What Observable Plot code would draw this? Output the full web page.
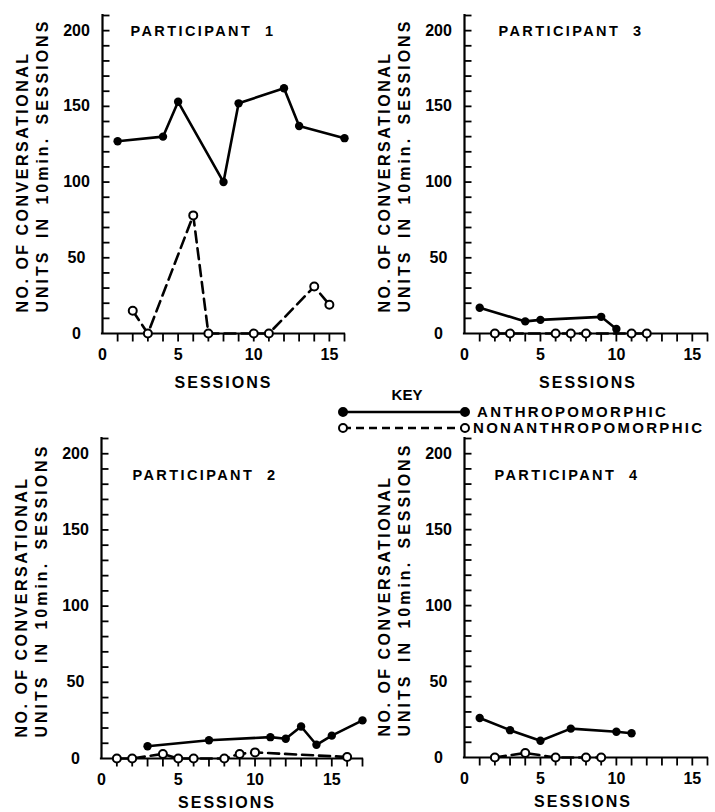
<!DOCTYPE html>
<html>
<head>
<meta charset="utf-8">
<script src="https://cdn.jsdelivr.net/npm/d3@7"></script>
<script src="https://cdn.jsdelivr.net/npm/@observablehq/plot@0.6"></script>
<style>
  body { margin: 0; background: #fff; }
  #wrap { position: relative; width: 715px; height: 812px; overflow: hidden; background: #fff;
          font-family: "Liberation Sans", Arial, sans-serif; }
  #wrap > svg { position: absolute; }
  #key text { font-family: "Liberation Sans", Arial, sans-serif; font-weight: bold; font-size: 15px; }
</style>
</head>
<body>
<div id="wrap"></div>
<script>
// ---- data ----
const yTickLabels = [0, 50, 100, 150, 200];
const xTickLabels = [0, 5, 10, 15];
const seriesNames = ["ANTHROPOMORPHIC", "NONANTHROPOMORPHIC"];
const panelTitles = ["PARTICIPANT\u00a0\u00a01", "PARTICIPANT\u00a0\u00a03", "PARTICIPANT\u00a0\u00a02", "PARTICIPANT\u00a0\u00a04"];

const p1AnthroSessions = [1, 4, 5, 8, 9, 12, 13, 16];
const p1AnthroUnits    = [127, 130, 153, 100, 152, 162, 137, 129];
const p1NonSessions    = [2, 3, 6, 7, 10, 11, 14, 15];
const p1NonUnits       = [15, 0, 78, 0, 0, 0, 31, 19];

const p3AnthroSessions = [1, 4, 5, 9, 10];
const p3AnthroUnits    = [17, 8, 9, 11, 3];
const p3NonSessions    = [2, 3, 6, 7, 8, 11, 12];
const p3NonUnits       = [0, 0, 0, 0, 0, 0, 0];

const p2AnthroSessions = [3, 7, 11, 12, 13, 14, 15, 17];
const p2AnthroUnits    = [8, 12, 14, 13, 21, 9, 15, 25];
const p2NonSessions    = [1, 2, 4, 5, 6, 8, 9, 10, 16];
const p2NonUnits       = [0, 0, 3, 0, 0, 0, 3, 4, 1];

const p4AnthroSessions = [1, 3, 5, 7, 10, 11];
const p4AnthroUnits    = [26, 18, 11, 19, 17, 16];
const p4NonSessions    = [2, 4, 6, 8, 9];
const p4NonUnits       = [0, 3, 0, 0, 0];

const FONT = '"Liberation Sans", Arial, sans-serif';
const wrap = document.getElementById("wrap");

const spacing = [
  [/^PARTICIPANT/, "2.4px", null],
  [/^NO\. OF/, "2.5px", null],
  [/^UNITS IN/, "3px", "4px"],
  [/^SESSIONS$/, "2px", null]
];

function makePanel(cfg) {
  const anthro = cfg.sa.map((s, i) => ({session: s, units: cfg.va[i]}));
  const non = cfg.sn.map((s, i) => ({session: s, units: cfg.vn[i]}));
  const plotW = cfg.width - cfg.ml - cfg.mr;
  const xPerPx = cfg.xMax / plotW;       // data units per pixel (x)
  const yPerPx = 210 / cfg.ph;           // data units per pixel (y)
  const xMinor = d3.range(1, cfg.xMax + 1);
  const yMinor = d3.range(10, 211, 10);
  const svg = Plot.plot({
    width: cfg.width, height: cfg.height,
    marginLeft: cfg.ml, marginRight: cfg.mr, marginTop: cfg.mt, marginBottom: cfg.height - cfg.mt - cfg.ph,
    style: {background: "transparent", fontFamily: FONT, overflow: "visible", color: "black"},
    x: {domain: [0, cfg.xMax]},
    y: {domain: [0, 210]},
    marks: [
      // minor ticks as links: x outward (down 8px), y inward (right 7px)
      Plot.link(xMinor, {x1: d => d, x2: d => d, y1: 0, y2: -8 * yPerPx, stroke: "black", strokeWidth: 1.8}),
      Plot.link(yMinor, {x1: 0, x2: 7 * xPerPx, y1: d => d, y2: d => d, stroke: "black", strokeWidth: 1.8}),
      // axis lines
      Plot.ruleY([0], {stroke: "black", strokeWidth: 2.2, strokeLinecap: "square"}),
      Plot.ruleX([0], {stroke: "black", strokeWidth: 2.2, strokeLinecap: "square"}),
      Plot.axisX({ticks: xTickLabels, tickSize: 0, tickPadding: 15, fontSize: 16, fontWeight: "bold", label: null}),
      Plot.axisY({ticks: yTickLabels, tickSize: 0, tickPadding: 26, textAnchor: "middle", fontSize: 16, fontWeight: "bold", label: null}),
      // titles / labels
      Plot.text([cfg.title], {text: d => d, frameAnchor: "top-left", textAnchor: "start", lineAnchor: "bottom",
        dx: cfg.tdx, dy: cfg.tdy, fontSize: 14.5, fontWeight: "bold"}),
      Plot.text(["NO. OF CONVERSATIONAL"], {text: d => d, frameAnchor: "bottom-left", rotate: -90,
        textAnchor: "start", lineAnchor: "middle", dx: -80, dy: -21, fontSize: 16, fontWeight: "bold"}),
      Plot.text(["UNITS IN 10min. SESSIONS"], {text: d => d, frameAnchor: "bottom-left", rotate: -90,
        textAnchor: "start", lineAnchor: "middle", dx: -60, dy: -21, fontSize: 16, fontWeight: "bold"}),
      Plot.text(["SESSIONS"], {text: d => d, frameAnchor: "bottom", lineAnchor: "bottom",
        dx: cfg.sdx, dy: cfg.sdy, fontSize: 16, fontWeight: "bold"}),
      // data
      Plot.line(anthro, {x: "session", y: "units", stroke: "black", strokeWidth: 2.6}),
      Plot.line(non, {x: "session", y: "units", stroke: "black", strokeWidth: 2.6, strokeDasharray: "11,6"}),
      Plot.dot(anthro, {x: "session", y: "units", r: 4.2, fill: "black"}),
      Plot.dot(non, {x: "session", y: "units", r: 4, fill: "white", stroke: "black", strokeWidth: 2})
    ]
  });
  svg.querySelectorAll("text").forEach(el => {
    const t = el.textContent;
    for (const [re, ls, ws] of spacing) {
      if (re.test(t)) {
        el.style.letterSpacing = ls;
        if (ws) el.style.wordSpacing = ws;
      }
    }
  });
  svg.style.left = cfg.left + "px";
  svg.style.top = cfg.top + "px";
  wrap.appendChild(svg);
}

makePanel({title: panelTitles[0], sa: p1AnthroSessions, va: p1AnthroUnits, sn: p1NonSessions, vn: p1NonUnits,
  xMax: 16, left: 0, top: 0, width: 357, height: 400, ml: 102, mr: 13, mt: 15, ph: 318,
  tdx: 28, tdy: 20, sdx: 0, sdy: 54});
makePanel({title: panelTitles[1], sa: p3AnthroSessions, va: p3AnthroUnits, sn: p3NonSessions, vn: p3NonUnits,
  xMax: 16, left: 362, top: 0, width: 353, height: 400, ml: 102, mr: 8, mt: 15, ph: 318,
  tdx: 34, tdy: 20, sdx: 2, sdy: 54});
makePanel({title: panelTitles[2], sa: p2AnthroSessions, va: p2AnthroUnits, sn: p2NonSessions, vn: p2NonUnits,
  xMax: 17, left: 0, top: 423, width: 370, height: 389, ml: 101, mr: 8, mt: 15, ph: 320,
  tdx: 31, tdy: 41, sdx: -5, sdy: 49});
makePanel({title: panelTitles[3], sa: p4AnthroSessions, va: p4AnthroUnits, sn: p4NonSessions, vn: p4NonUnits,
  xMax: 16, left: 362, top: 423, width: 353, height: 389, ml: 102, mr: 8, mt: 15, ph: 319,
  tdx: 30, tdy: 41, sdx: -3, sdy: 49});

// ---- key (small overlay covering only the key area) ----
const KX = 330, KY = 380;
const key = d3.select(wrap).append("svg").attr("id", "key")
  .attr("width", 385).attr("height", 60).style("left", KX + "px").style("top", KY + "px").style("pointer-events", "none");
key.append("text").attr("x", 407 - KX).attr("y", 400 - KY).attr("text-anchor", "middle").text("KEY");
const rows = [{y: 412, dash: null, fill: "black", tx: 477, ty: 417},
              {y: 428, dash: "8,5", fill: "white", tx: 473, ty: 433}];
rows.forEach((r, i) => {
  key.append("line").attr("x1", 343 - KX).attr("x2", 465 - KX).attr("y1", r.y - KY).attr("y2", r.y - KY)
    .attr("stroke", "black").attr("stroke-width", 2.6).attr("stroke-dasharray", r.dash);
  [343, 465].forEach(cx => key.append("circle").attr("cx", cx - KX).attr("cy", r.y - KY).attr("r", 4)
    .attr("fill", r.fill).attr("stroke", "black").attr("stroke-width", 2));
  key.append("text").attr("x", r.tx - KX).attr("y", r.ty - KY).style("letter-spacing", "2.3px").text(seriesNames[i]);
});
</script>
</body>
</html>
